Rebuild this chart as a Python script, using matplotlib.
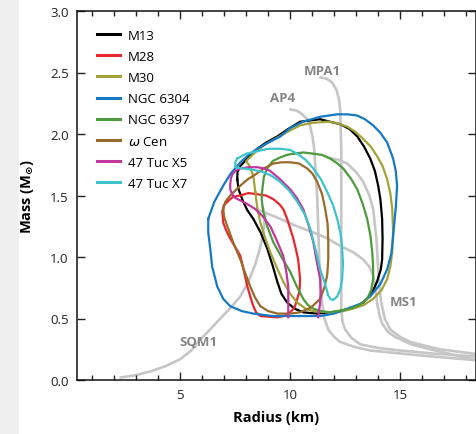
import matplotlib
matplotlib.use("Agg")
import matplotlib.pyplot as plt
from matplotlib.patches import Rectangle
from matplotlib.ticker import MultipleLocator

plt.rcParams['font.family'] = ['Open Sans', 'DejaVu Sans']
plt.rcParams['mathtext.fontset'] = 'dejavusans'

# ---- colored contours (Radius km, Mass Msun) ----
m13_r = [7.59, 7.65, 7.86, 8.05, 8.32, 8.65, 8.95, 9.2, 9.41, 9.6, 9.86, 10.2, 10.59, 11.23, 12.27, 12.9, 13.32, 13.7, 13.95, 14.12, 14.18, 14.2, 14.18, 14.1, 14.0, 13.85, 13.64, 13.35, 13.05, 12.7, 12.27, 11.8, 11.36, 10.9, 10.45, 9.9, 9.41, 8.9, 8.5, 8.1, 7.73, 7.6, 7.59]
m13_m = [1.63, 1.55, 1.45, 1.38, 1.31, 1.2, 1.07, 0.93, 0.80, 0.70, 0.63, 0.58, 0.55, 0.54, 0.56, 0.59, 0.63, 0.70, 0.80, 0.90, 0.98, 1.15, 1.31, 1.47, 1.58, 1.70, 1.80, 1.90, 1.98, 2.04, 2.08, 2.10, 2.12, 2.11, 2.10, 2.04, 1.98, 1.93, 1.88, 1.81, 1.74, 1.69, 1.63]

m28_r = [7.14, 7.4, 7.73, 8.1, 8.5, 8.9, 9.23, 9.5, 9.68, 9.86, 10.0, 10.14, 10.26, 10.36, 10.45, 10.42, 10.32, 10.2, 10.0, 9.7, 9.41, 8.64, 8.45, 8.32, 8.18, 8.05, 7.9, 7.73, 7.5, 7.27, 7.1, 6.95, 6.91, 6.98, 7.14]
m28_m = [1.45, 1.49, 1.50, 1.52, 1.51, 1.50, 1.47, 1.43, 1.39, 1.31, 1.23, 1.15, 1.06, 0.98, 0.82, 0.72, 0.66, 0.59, 0.55, 0.52, 0.51, 0.52, 0.55, 0.60, 0.68, 0.76, 0.88, 1.01, 1.08, 1.15, 1.21, 1.28, 1.37, 1.42, 1.45]

m30_r = [8.41, 8.5, 8.64, 8.85, 9.09, 9.4, 9.68, 10.0, 10.32, 10.7, 11.05, 11.82, 12.4, 12.86, 13.35, 13.77, 14.15, 14.41, 14.55, 14.64, 14.68, 14.64, 14.55, 14.41, 14.2, 13.95, 13.65, 13.32, 12.95, 12.59, 12.1, 11.68, 11.0, 10.45, 9.9, 9.4, 8.9, 8.4, 8.0, 8.15, 8.32, 8.41]
m30_m = [1.53, 1.40, 1.28, 1.16, 1.04, 0.91, 0.80, 0.70, 0.63, 0.58, 0.56, 0.55, 0.56, 0.58, 0.61, 0.66, 0.73, 0.82, 0.92, 1.04, 1.20, 1.39, 1.52, 1.63, 1.74, 1.82, 1.90, 1.96, 2.02, 2.06, 2.09, 2.10, 2.09, 2.07, 2.02, 1.97, 1.92, 1.85, 1.78, 1.74, 1.66, 1.53]

n6304_r = [6.27, 6.27, 6.36, 6.45, 6.68, 6.95, 7.27, 7.8, 8.32, 9.2, 10.0, 11.36, 12.0, 12.59, 13.2, 13.64, 14.1, 14.41, 14.6, 14.68, 14.8, 14.86, 14.8, 14.68, 14.41, 14.1, 13.77, 13.4, 13.05, 12.6, 12.14, 11.36, 10.59, 10.0, 9.55, 9.0, 8.5, 8.1, 7.73, 7.3, 6.95, 6.55, 6.27]
n6304_m = [1.31, 1.20, 1.07, 0.92, 0.76, 0.66, 0.60, 0.56, 0.54, 0.52, 0.52, 0.52, 0.54, 0.58, 0.62, 0.68, 0.78, 0.90, 1.03, 1.17, 1.40, 1.58, 1.70, 1.80, 1.93, 2.01, 2.07, 2.12, 2.15, 2.16, 2.16, 2.14, 2.10, 2.05, 1.98, 1.93, 1.88, 1.83, 1.77, 1.68, 1.58, 1.45, 1.31]

n6397_r = [10.14, 10.6, 11.05, 11.45, 11.82, 12.15, 12.41, 12.75, 13.05, 13.3, 13.5, 13.65, 13.73, 13.77, 13.77, 13.68, 13.5, 13.15, 12.73, 11.82, 11.4, 11.05, 10.8, 10.59, 10.3, 10.0, 9.6, 9.23, 8.95, 8.77, 8.7, 8.73, 8.8, 8.95, 9.2, 9.55, 9.85, 10.14]
n6397_m = [1.84, 1.85, 1.84, 1.83, 1.80, 1.76, 1.72, 1.64, 1.55, 1.43, 1.31, 1.17, 1.04, 0.92, 0.82, 0.73, 0.66, 0.61, 0.58, 0.55, 0.56, 0.58, 0.61, 0.66, 0.76, 0.88, 1.00, 1.12, 1.25, 1.37, 1.47, 1.55, 1.65, 1.72, 1.78, 1.81, 1.83, 1.84]

wcen_r = [6.95, 7.0, 7.14, 7.4, 7.73, 7.95, 8.18, 8.4, 8.64, 9.0, 9.41, 10.0, 10.45, 10.95, 11.36, 11.55, 11.68, 11.73, 11.73, 11.7, 11.59, 11.45, 11.23, 11.0, 10.77, 10.4, 10.0, 9.6, 9.23, 8.8, 8.41, 8.05, 7.73, 7.5, 7.27, 7.05, 6.95]
wcen_m = [1.39, 1.32, 1.25, 1.12, 0.98, 0.87, 0.76, 0.67, 0.60, 0.56, 0.54, 0.54, 0.55, 0.59, 0.66, 0.75, 0.85, 0.98, 1.12, 1.27, 1.39, 1.51, 1.61, 1.68, 1.72, 1.76, 1.77, 1.77, 1.76, 1.72, 1.67, 1.63, 1.58, 1.54, 1.50, 1.45, 1.39]

x5_r = [9.91, 9.91, 9.91, 9.82, 9.68, 9.4, 9.09, 8.75, 8.41, 8.05, 7.73, 7.5, 7.36, 7.27, 7.27, 7.3, 7.36, 7.5, 7.73, 8.1, 8.5, 8.8, 9.09, 9.55, 10.0, 10.3, 10.59, 10.85, 11.05, 11.2, 11.36, 11.38, 11.36, 11.27]
x5_m = [0.51, 0.62, 0.76, 0.88, 1.01, 1.13, 1.25, 1.33, 1.39, 1.43, 1.46, 1.48, 1.51, 1.55, 1.59, 1.64, 1.67, 1.70, 1.72, 1.73, 1.73, 1.72, 1.70, 1.63, 1.55, 1.48, 1.39, 1.25, 1.12, 0.97, 0.82, 0.72, 0.63, 0.51]

x7_r = [7.59, 8.0, 8.5, 9.0, 9.55, 10.0, 10.32, 10.7, 11.05, 11.4, 11.68, 11.95, 12.14, 12.3, 12.36, 12.4, 12.36, 12.28, 12.14, 11.95, 11.82, 11.72, 11.68, 11.55, 11.36, 11.15, 10.91, 10.65, 10.32, 9.95, 9.55, 9.15, 8.77, 8.3, 7.86, 7.5, 7.5, 7.59]
x7_m = [1.80, 1.84, 1.86, 1.88, 1.88, 1.87, 1.84, 1.79, 1.72, 1.63, 1.53, 1.42, 1.31, 1.18, 1.07, 0.95, 0.82, 0.74, 0.68, 0.65, 0.66, 0.69, 0.72, 0.80, 0.90, 1.06, 1.23, 1.35, 1.45, 1.54, 1.61, 1.66, 1.69, 1.71, 1.72, 1.73, 1.77, 1.80]

# ---- gray EOS curves ----
mpa1_r = [11.36, 11.65, 11.9, 12.1, 12.22, 12.27, 12.32, 12.32, 12.32, 12.32, 12.38, 12.5, 12.8, 13.18, 14.0, 15.0, 16.5, 18.5]
mpa1_m = [2.46, 2.45, 2.42, 2.36, 2.28, 2.20, 1.88, 1.47, 0.98, 0.58, 0.47, 0.41, 0.34, 0.29, 0.26, 0.24, 0.215, 0.19]

ap4_r = [10.0, 10.3, 10.55, 10.78, 10.91, 11.02, 11.09, 11.23, 11.32, 11.45, 11.55, 11.73, 12.0, 12.27, 12.9, 13.64, 15.91, 18.5]
ap4_m = [2.20, 2.19, 2.16, 2.12, 2.06, 1.97, 1.88, 1.47, 0.98, 0.62, 0.50, 0.41, 0.35, 0.31, 0.27, 0.24, 0.20, 0.16]

ms1_r = [11.68, 12.2, 12.59, 13.0, 13.32, 13.6, 13.77, 13.92, 14.0, 14.08, 14.14, 14.3, 14.55, 15.0, 15.45, 16.1, 16.82, 18.5]
ms1_m = [1.81, 1.79, 1.76, 1.69, 1.61, 1.50, 1.39, 1.15, 0.90, 0.72, 0.63, 0.50, 0.41, 0.35, 0.31, 0.28, 0.25, 0.21]

sqm1_r = [2.27, 3.0, 3.64, 4.3, 5.0, 5.5, 5.91, 6.35, 6.82, 7.3, 7.73, 8.1, 8.41, 8.62, 8.77, 8.86, 8.73]
sqm1_m = [0.02, 0.04, 0.07, 0.11, 0.17, 0.24, 0.33, 0.41, 0.50, 0.59, 0.68, 0.80, 0.94, 1.07, 1.19, 1.35, 1.41]

other_r = [8.41, 9.0, 9.55, 10.3, 11.05, 11.7, 12.27, 12.85, 13.32, 13.6, 13.77, 13.88, 13.95, 14.05, 14.18, 14.45, 14.77, 15.5, 16.36, 18.5]
other_m = [1.39, 1.35, 1.31, 1.25, 1.20, 1.15, 1.09, 1.04, 0.98, 0.92, 0.85, 0.75, 0.63, 0.53, 0.46, 0.39, 0.35, 0.29, 0.25, 0.16]

gray_labels = ['MPA1', 'AP4', 'MS1', 'SQM1']
gray_label_r = [11.45, 9.64, 15.14, 5.82]
gray_label_m = [2.52, 2.30, 0.64, 0.31]

legend_labels = ['M13', 'M28', 'M30', 'NGC 6304', 'NGC 6397', r'$\omega$ Cen', '47 Tuc X5', '47 Tuc X7']
colors = ['#000000', '#e8262b', '#a3a33a', '#1679c4', '#4e9a3e', '#9a6a2a', '#c2379e', '#3cc4cc']

fig = plt.figure(figsize=(4.77, 4.35), dpi=100)
fig.patches.append(Rectangle((0, 0), 19/477, 1, transform=fig.transFigure,
                             facecolor='#efefef', edgecolor='none', zorder=0))
ax = fig.add_axes([77/477, 54/435, 399/477, 369/435])

gcol = '#c6c6c6'
for r, m in [(mpa1_r, mpa1_m), (ap4_r, ap4_m), (ms1_r, ms1_m), (sqm1_r, sqm1_m), (other_r, other_m)]:
    ax.plot(r, m, color=gcol, lw=1.9, solid_capstyle='round', solid_joinstyle='round', zorder=1)

for t, r, m in zip(gray_labels, gray_label_r, gray_label_m):
    ax.text(r, m, t, color='#858585', fontsize=9.5, fontweight='bold', ha='center', va='center', zorder=2)

series = [(m13_r, m13_m), (m28_r, m28_m), (m30_r, m30_m), (n6304_r, n6304_m),
          (n6397_r, n6397_m), (wcen_r, wcen_m), (x5_r, x5_m), (x7_r, x7_m)]
handles = []
for (r, m), c, lab in zip(series, colors, legend_labels):
    h, = ax.plot(r, m, color=c, lw=1.6, solid_joinstyle='round', label=lab, zorder=3)
    handles.append(h)

ax.set_xlim(0.3, 18.45)
ax.set_ylim(0, 3.0)
ax.xaxis.set_major_locator(MultipleLocator(5))
ax.xaxis.set_minor_locator(MultipleLocator(1))
ax.set_yticks([0, 0.5, 1.0, 1.5, 2.0, 2.5, 3.0])
ax.set_yticklabels(['0.0', '0.5', '1.0', '1.5', '2.0', '2.5', '3.0'])
ax.tick_params(which='both', direction='in', top=True, right=True, width=1.0, color='#222222',
               labelsize=9.5, labelcolor='#222222')
ax.tick_params(which='major', length=6, pad=6)
ax.tick_params(which='minor', length=3.5)
for s in ax.spines.values():
    s.set_linewidth(1.1)
    s.set_color('#111111')

ax.set_xlabel('Radius (km)', fontsize=10.5, fontweight='bold', labelpad=6)
ax.set_ylabel(r'Mass (M$_{\mathbf{\odot}}$)', fontsize=10.5, fontweight='bold', labelpad=10)

leg = ax.legend(handles=handles, loc='upper left', bbox_to_anchor=(0.05, 0.952), frameon=False,
                fontsize=9.5, handlelength=1.75, handletextpad=0.6, labelspacing=0.62,
                borderpad=0, borderaxespad=0)
for line in leg.get_lines():
    line.set_linewidth(2.2)

fig.savefig('out.png', dpi=100)
